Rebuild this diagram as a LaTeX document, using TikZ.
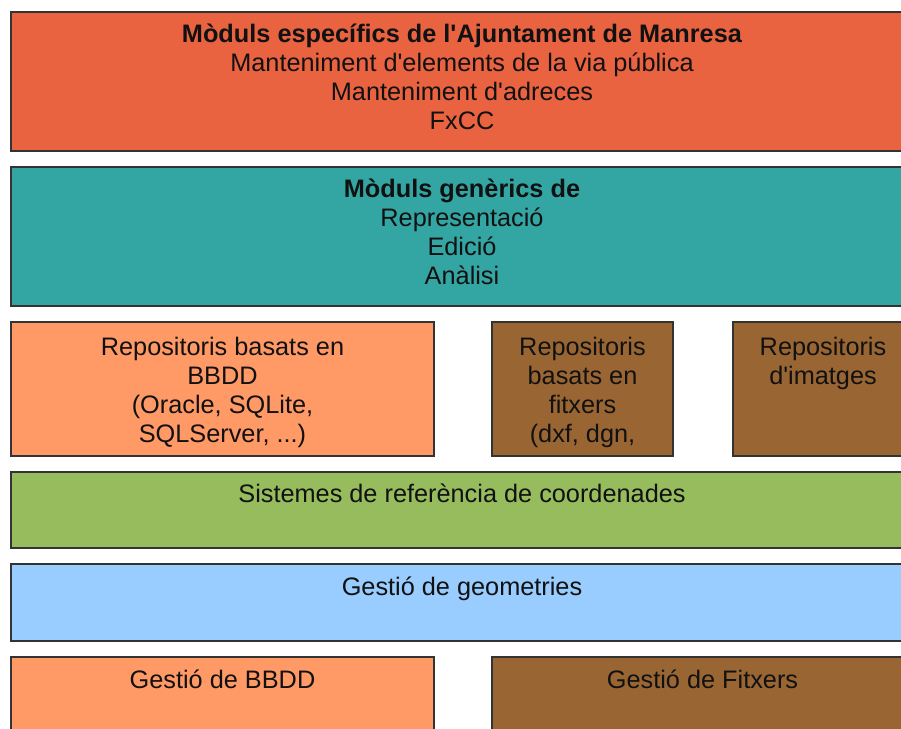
\documentclass[tikz,border=0pt]{standalone}
\usepackage{fontspec}
\setmainfont{Liberation Sans}[Ligatures=TeXOff]
\definecolor{cTop}{HTML}{E96341}
\definecolor{cTeal}{HTML}{33A5A3}
\definecolor{cSalmon}{HTML}{FF9966}
\definecolor{cBrown}{HTML}{996633}
\definecolor{cGreen}{HTML}{97BC5D}
\definecolor{cBlue}{HTML}{99CCFF}
\definecolor{cLine}{HTML}{333333}
\definecolor{cText}{HTML}{111111}
\tikzset{
  layerbox/.style={draw=cLine, line width=1.3pt, inner sep=0pt, outer sep=0pt, rectangle},
  lbl/.style={font=\fontsize{25.3}{29}\selectfont, align=center, anchor=base, text=cText, inner sep=0pt},
}
\begin{document}
\begin{tikzpicture}[x=1pt,y=-1pt]
\useasboundingbox (0,0) rectangle (901,728);
\clip (0,0) rectangle (901,728);
\fill[white] (0,0) rectangle (901,728);
\node[layerbox, fill=cTop, minimum width=902pt, minimum height=139pt] (top) at (462,81.5) {};
\node[layerbox, fill=cTeal, minimum width=902pt, minimum height=139pt] (gen) at (462,236.5) {};
\node[layerbox, fill=cSalmon, minimum width=423pt, minimum height=134pt] (rbd) at (222.5,389) {};
\node[layerbox, fill=cBrown, minimum width=181pt, minimum height=134pt] (rfx) at (582.5,389) {};
\node[layerbox, fill=cBrown, minimum width=180pt, minimum height=134pt] (rim) at (823,389) {};
\node[layerbox, fill=cGreen, minimum width=902pt, minimum height=76pt] (src) at (462,510) {};
\node[layerbox, fill=cBlue, minimum width=902pt, minimum height=77pt] (geo) at (462,602.5) {};
\node[layerbox, fill=cSalmon, minimum width=423pt, minimum height=103pt] (gbd) at (222.5,708.5) {};
\node[layerbox, fill=cBrown, minimum width=421pt, minimum height=103pt] (gfx) at (702.5,708.5) {};

\node[lbl] (topT) at ([yshift=-117pt]top.north) {\textbf{Mòduls específics de l'Ajuntament de Manresa}\\Manteniment d'elements de la via pública\\Manteniment d'adreces\\FxCC};
\node[lbl] (genT) at ([yshift=-117pt]gen.north) {\textbf{Mòduls genèrics de}\\Representació\\Edició\\Anàlisi};
\node[lbl] (rbdT) at ([yshift=-120pt]rbd.north) {Repositoris basats en\\BBDD\\(Oracle, SQLite,\\SQLServer, ...)};
\node[lbl] (rfxT) at ([yshift=-120pt]rfx.north) {Repositoris\\basats en\\fitxers\\(dxf, dgn,};
\node[lbl] (rimT) at ([yshift=-62pt]rim.north) {Repositoris\\d'imatges};
\node[lbl] (srcT) at ([yshift=-30pt]src.north) {Sistemes de referència de coordenades};
\node[lbl] (geoT) at ([yshift=-31pt]geo.north) {Gestió de geometries};
\node[lbl] (gbdT) at ([yshift=-31pt]gbd.north) {Gestió de BBDD};
\node[lbl] (gfxT) at ([yshift=-31pt]gfx.north) {Gestió de Fitxers};
\end{tikzpicture}
\end{document}
